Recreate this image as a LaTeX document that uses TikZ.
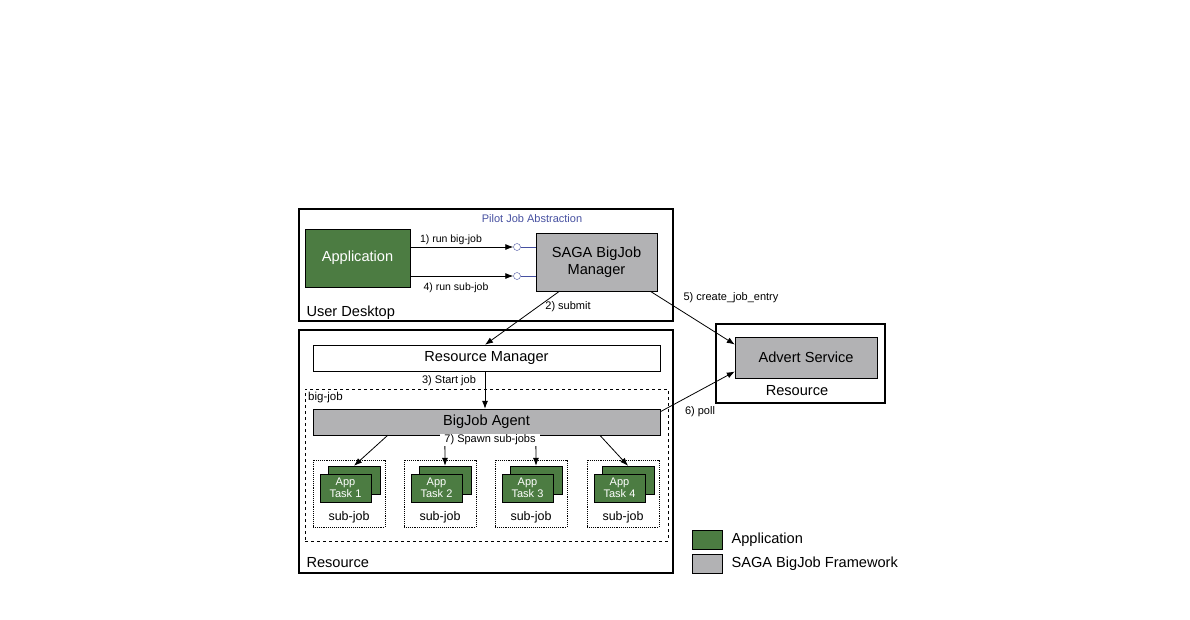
\documentclass[tikz,border=0pt]{standalone}
\usepackage{fontspec}
\setmainfont{Liberation Sans}
\usetikzlibrary{positioning,arrows.meta,calc}
\definecolor{appgreen}{RGB}{76,124,66}
\definecolor{fwgray}{RGB}{178,178,180}
\definecolor{pjblue}{RGB}{70,80,160}

\tikzset{
  frame/.style={draw,line width=1.3pt},
  appbox/.style={draw,fill=appgreen,text=white,align=center,inner sep=0pt},
  fwbox/.style={draw,fill=fwgray,align=center,inner sep=0pt},
  plainbox/.style={draw,fill=white,align=center,inner sep=0pt},
  subjobbox/.style={draw,densely dotted,line width=0.9pt,inner sep=0pt},
  arr/.style={-{Latex[length=8pt,width=6pt]},line width=0.8pt},
  lbl/.style={font=\fontsize{11}{12}\selectfont,inner sep=1pt},
  big/.style={font=\fontsize{14.6}{16.5}\selectfont},
  port/.style={circle,draw=pjblue,fill=white,inner sep=0pt,minimum size=7pt}
}

\begin{document}
\begin{tikzpicture}[x=1pt,y=-1pt]
\useasboundingbox (0,0) rectangle (1190,619);

% user desktop
\node[frame,minimum width=374,minimum height=112,inner sep=0pt] (desk) at (486,265) {};
\node[anchor=base west,big] (desklbl) at (303,316) {User Desktop};
\node[lbl,text=pjblue] (pja) at (532,219) {Pilot Job Abstraction};
\node[appbox,big,minimum width=105,minimum height=58] (app) at (357.5,258) {Application};
\node[fwbox,big,minimum width=121,minimum height=58] (mgr) at (596.5,262) {SAGA BigJob\\Manager};
\node[port] (p1) at (517,247) {};
\node[port] (p4) at (517,276) {};
\draw[pjblue,line width=0.8pt] (p1) -- (p1 -| mgr.west);
\draw[pjblue,line width=0.8pt] (p4) -- (p4 -| mgr.west);
\draw[arr] (app.east |- p1) -- (p1.west);
\draw[arr] (app.east |- p4) -- (p4.west);
\node[lbl,font=\fontsize{10.5}{12}\selectfont] (l1) at (451,240) {1) run big-job};
\node[lbl,font=\fontsize{10.5}{12}\selectfont] (l4) at (456,288) {4) run sub-job};

% resource
\node[frame,minimum width=374,minimum height=243,inner sep=0pt] (res) at (486,451.5) {};
\node[anchor=base west,big] (reslbl) at (303,567) {Resource};
\node[plainbox,big,minimum width=347,minimum height=26] (rm) at (486.5,358) {Resource Manager};
\node[draw,dashed,line width=0.9pt,minimum width=363,minimum height=152,inner sep=0pt] (bigjob) at (486.5,465) {};
\node[lbl,anchor=west,font=\fontsize{11.5}{12}\selectfont] (bjlbl) at (307,398) {big-job};
\node[fwbox,big,minimum width=347,minimum height=26] (agent) at (486.5,422) {BigJob Agent};
\draw[arr] (rm.south -| 485,0) -- (agent.north -| 485,0);
\node[lbl] (l3) at (449,381) {3) Start job};

\foreach \i/\x in {1/349,2/440,3/531,4/623}{
  \node[subjobbox,minimum width=72,minimum height=67] (sj\i) at (\x,493.5) {};
  \node[appbox,minimum width=52,minimum height=28] (back\i) at (\x+5,480) {};
  \node[appbox,minimum width=51,minimum height=28,font=\fontsize{11}{12}\selectfont] (task\i) at (\x-3.5,488) {App\\Task \i};
  \node[font=\fontsize{12.5}{13}\selectfont] (sjl\i) at (\x,517) {sub-job};
}
\draw[arr] ([xshift=75pt]agent.south west) -- (back1.north);
\draw[arr] ([xshift=132pt]agent.south west) -- (back2.north);
\draw[arr] ([xshift=223pt]agent.south west) -- (back3.north);
\draw[arr] ([xshift=287pt]agent.south west) -- (back4.north);
\node[lbl,fill=white,inner xsep=4pt] (l7) at (490,440) {7) Spawn sub-jobs};

\draw[arr] ([xshift=-37pt]mgr.south) -- (rm.north -| 485,0);
\node[lbl] (l2) at (568,307) {2) submit};

% advert
\node[frame,minimum width=169,minimum height=79,inner sep=0pt] (res2) at (800.5,363.5) {};
\node[fwbox,big,minimum width=142,minimum height=41] (adv) at (806,357.5) {Advert Service};
\node[big] (res2lbl) at (797,391) {Resource};
\draw[arr] ([xshift=-7pt]mgr.south east) -- ([yshift=13pt]adv.west);
\node[lbl] (l5) at (731,298) {5) create\_job\_entry};
\draw[arr] ([yshift=-3pt]agent.north east) -- ([yshift=-14pt]adv.west);
\node[lbl] (l6) at (700,412) {6) poll};

% legend
\node[appbox,minimum width=30,minimum height=19] (kapp) at (707,539.5) {};
\node[fwbox,minimum width=30,minimum height=19] (kfw) at (707,563.5) {};
\node[anchor=west,big] (kappl) at (728,540) {Application};
\node[anchor=west,big] (kfwl) at (728,564) {SAGA BigJob Framework};
\end{tikzpicture}
\end{document}
